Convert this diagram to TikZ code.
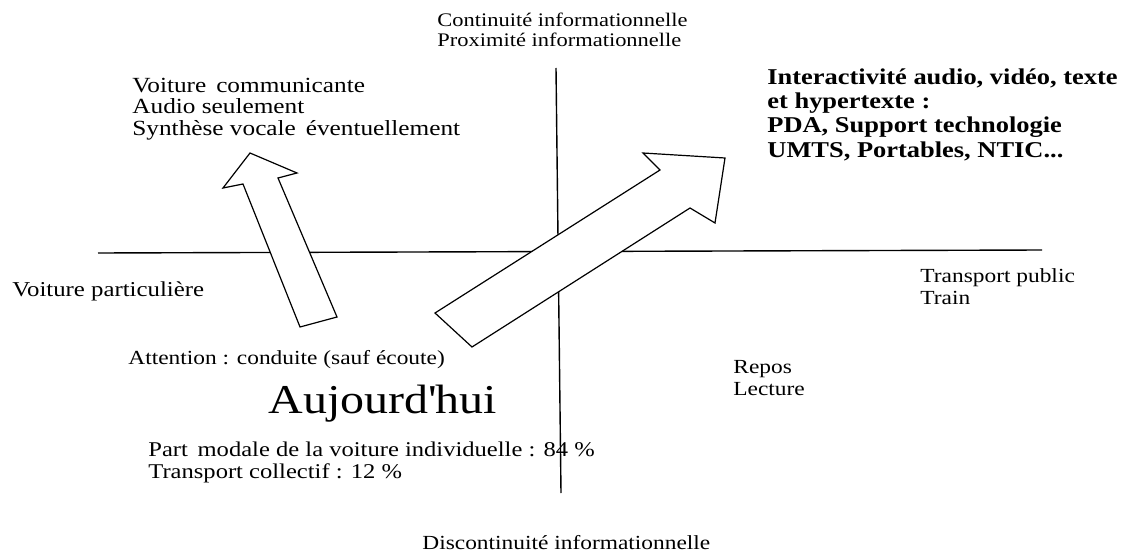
\documentclass[tikz,border=0pt]{standalone}
\usepackage{fontspec}
\setmainfont[FakeStretch=1.17]{Liberation Serif}
\begin{document}
\begin{tikzpicture}[x=0.5pt, y=-0.5pt,
    plain text/.style={anchor=base west, inner sep=0pt, align=left, font=\fontsize{10}{11}\selectfont},
    bold text/.style={plain text, font=\fontsize{11.3}{12}\selectfont\bfseries},
    axis line/.style={line width=0.7pt},
    block arrow/.style={draw, fill=white, line width=0.6pt, line join=miter}]
        \useasboundingbox (0,0) rectangle (1124,556);

        % axes
        \coordinate (top) at (556,68);
        \coordinate (bottom) at (561,493);
        \coordinate (left) at (98,253);
        \coordinate (right) at (1042,250);
        \draw[axis line] (top) -- (bottom);
        \draw[axis line] (left) -- (right);

        % small arrow
        \coordinate (s tip) at (250,153);
        \coordinate (s barb l) at (223,188);
        \coordinate (s notch l) at (243,184);
        \coordinate (s tail l) at (300,327);
        \coordinate (s tail r) at (337,317);
        \coordinate (s notch r) at (278,178);
        \coordinate (s barb r) at (297,173);
        \draw[block arrow] (s tip) -- (s barb l) -- (s notch l) -- (s tail l)
            -- (s tail r) -- (s notch r) -- (s barb r) -- cycle;

        % big arrow
        \coordinate (b tip) at (725,158);
        \coordinate (b barb u) at (643,153);
        \coordinate (b notch u) at (660,170);
        \coordinate (b tail u) at (435,313);
        \coordinate (b tail d) at (472,347);
        \coordinate (b notch d) at (690,208);
        \coordinate (b barb d) at (715,223);
        \draw[block arrow] (b tip) -- (b barb u) -- (b notch u) -- (b tail u)
            -- (b tail d) -- (b notch d) -- (b barb d) -- cycle;

        % labels (multi-line nodes sit on their last line)
        \node[plain text, font=\fontsize{9.6}{10}\selectfont] (north) at (437,47) {Continuité informationnelle\\Proximité informationnelle};
        \node[plain text, font=\fontsize{10.8}{10.7}\selectfont] (car) at (132,135) {Voiture\, communicante\\Audio seulement\\Synthèse vocale\, éventuellement};
        \node[bold text] (media) at (767,157) {Interactivité audio, vidéo, texte\\et hypertexte :\\PDA, Support technologie\\UMTS, Portables, NTIC...};
        \node[plain text, font=\fontsize{10.6}{11}\selectfont] (west) at (12,296) {Voiture particulière};
        \node[plain text] (east) at (920,304) {Transport public\\Train};
        \node[plain text] (attention) at (128,364) {Attention : conduite (sauf écoute)};
        \node[plain text] (repos) at (733,395) {Repos\\Lecture};
        \node[plain text, font=\fontsize{20.5}{24}\selectfont] (today) at (268,413) {Aujourd\textquotesingle hui};
        \node[plain text, font=\fontsize{10.5}{11}\selectfont] (share) at (148,478) {Part\, modale de la voiture individuelle : 84 \%\\Transport collectif : 12 \%};
        \node[plain text] (south) at (422,549) {Discontinuité informationnelle};

\end{tikzpicture}
\end{document}
